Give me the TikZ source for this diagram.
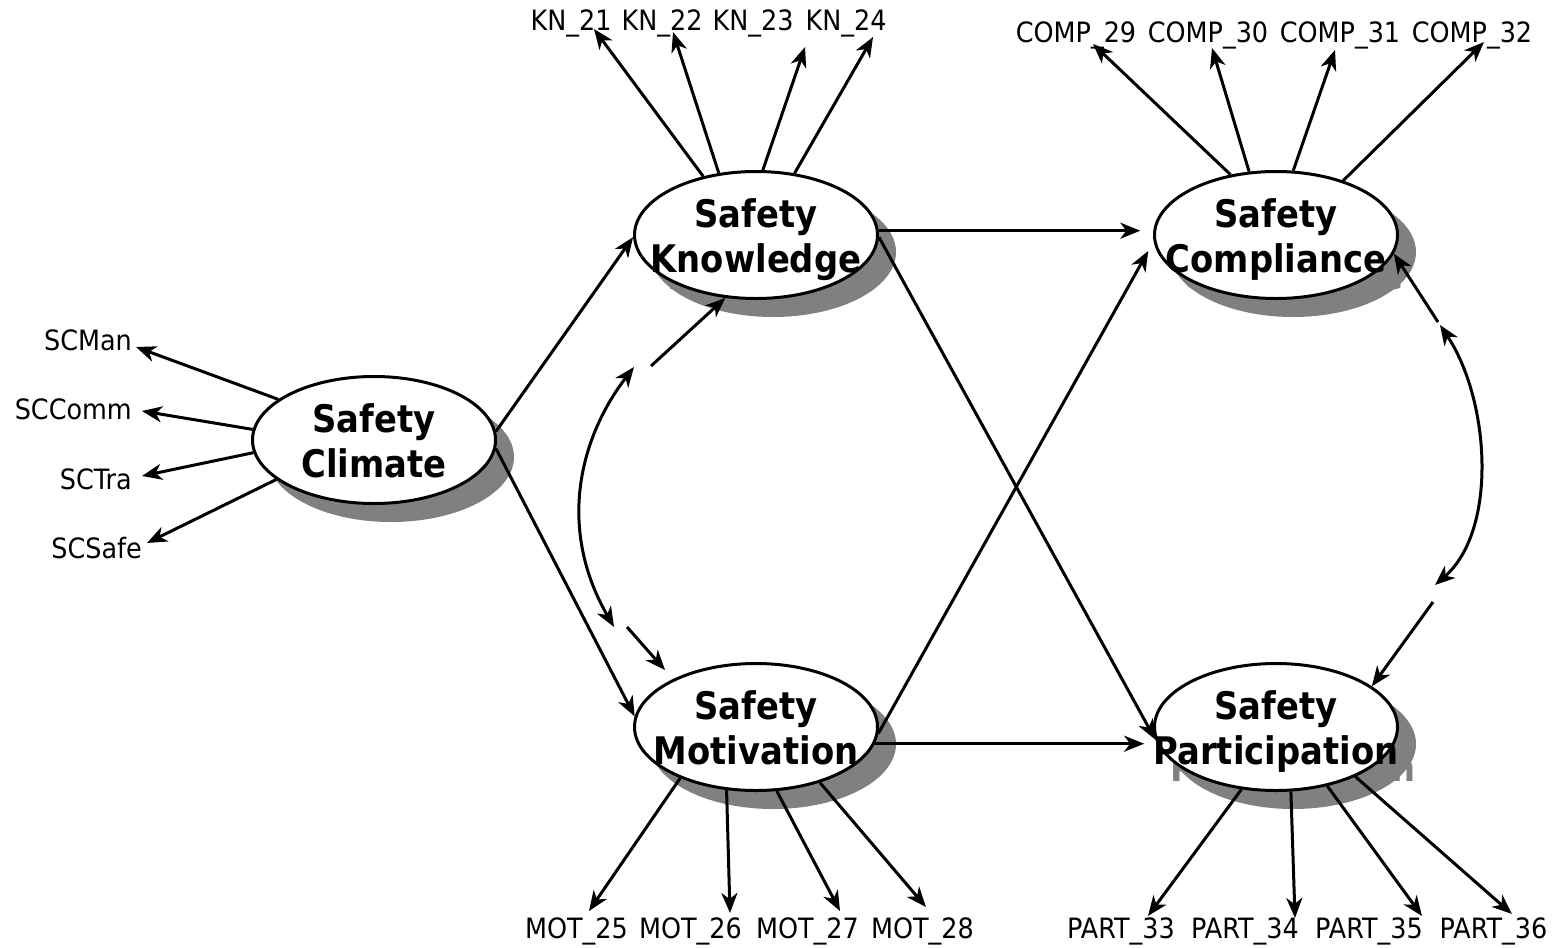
\documentclass[tikz,border=0pt]{standalone}
\usepackage{fontspec}
\setmainfont{DejaVu Sans}
\newfontfamily\lblfont[FakeStretch=0.91]{DejaVu Sans}
\newfontfamily\ttlfont[FakeStretch=0.89]{DejaVu Sans Bold}
\usetikzlibrary{arrows.meta,shapes.geometric}
\definecolor{shadowgray}{RGB}{128,128,128}
\newcommand{\latvar}[5]{%
  \node[shad] (#1s) at (#2+17,#3+17) {};
  \node[ttl,text=shadowgray] at (#2+17,#3+17-7.5) {#4};
  \node[ttl,text=shadowgray] at (#2+17,#3+17+37.5) {#5};
  \node[ell] (#1) at (#2,#3) {};
  \node[ttl] (#1a) at (#2,#3-7.5) {#4};
  \node[ttl] (#1b) at (#2,#3+37.5) {#5};
}
\begin{document}
\begin{tikzpicture}[x=1pt,y=-1pt,
  tip/.tip={Stealth[length=20pt,width=16pt,inset=6pt]},
  arr/.style={line width=3pt,-tip},
  darr/.style={line width=3pt,tip-tip},
  ell/.style={ellipse,draw,line width=3pt,fill=white,minimum width=243pt,minimum height=127pt,inner sep=0pt},
  shad/.style={ellipse,fill=shadowgray,minimum width=246pt,minimum height=130pt,inner sep=0pt},
  ttl/.style={font=\fontsize{38}{44}\selectfont\ttlfont,anchor=base,inner sep=0pt},
  lbl/.style={font=\fontsize{28}{32}\selectfont\lblfont,inner sep=0pt}]
\path[use as bounding box,fill=white] (0,0) rectangle (1564,948);

% latent variables
\latvar{sc}{374}{440}{Safety}{Climate}
\latvar{sk}{756}{235}{Safety}{Knowledge}
\latvar{sco}{1276}{235}{Safety}{Compliance}
\latvar{sm}{756}{727}{Safety}{Motivation}
\latvar{spa}{1276}{727}{Safety}{Participation}

% indicator labels
\node[lbl,anchor=base east] (scman) at (132,350) {SCMan};
\node[lbl,anchor=base east] (sccomm) at (132,419) {SCComm};
\node[lbl,anchor=base east] (sctra) at (132,489) {SCTra};
\node[lbl,anchor=base east] (scsafe) at (142,558) {SCSafe};

\node[lbl,anchor=base] (kn21) at (571,30) {KN\_21};
\node[lbl,anchor=base] (kn22) at (662,30) {KN\_22};
\node[lbl,anchor=base] (kn23) at (753,30) {KN\_23};
\node[lbl,anchor=base] (kn24) at (846,30) {KN\_24};

\node[lbl,anchor=base] (comp29) at (1076,42) {COMP\_29};
\node[lbl,anchor=base] (comp30) at (1208,42) {COMP\_30};
\node[lbl,anchor=base] (comp31) at (1340,42) {COMP\_31};
\node[lbl,anchor=base] (comp32) at (1472,42) {COMP\_32};

\node[lbl,anchor=base] (mot25) at (576.5,938) {MOT\_25};
\node[lbl,anchor=base] (mot26) at (690.5,938) {MOT\_26};
\node[lbl,anchor=base] (mot27) at (807.5,938) {MOT\_27};
\node[lbl,anchor=base] (mot28) at (922.5,938) {MOT\_28};

\node[lbl,anchor=base] (part33) at (1121,938) {PART\_33};
\node[lbl,anchor=base] (part34) at (1245,938) {PART\_34};
\node[lbl,anchor=base] (part35) at (1369,938) {PART\_35};
\node[lbl,anchor=base] (part36) at (1493.5,938) {PART\_36};

% indicator arrows
\draw[arr] (sc.157) -- ([shift={(4,-3)}]scman.base east);
\draw[arr] (sc.175) -- ([shift={(10,-8)}]sccomm.base east);
\draw[arr] (sc.186) -- ([shift={(10,-13)}]sctra.base east);
\draw[arr] (sc.202) -- ([shift={(5,-15)}]scsafe.base east);

\draw[arr] (sk.132.6) -- ([shift={(23,-1)}]kn21.base);
\draw[arr] (sk.121.6) -- ([shift={(11,2)}]kn22.base);
\draw[arr] (sk.84.7) -- ([shift={(52,17)}]kn23.base);
\draw[arr] (sk.58.2) -- ([shift={(27,7)}]kn24.base);

\draw[arr] (sco.127.3) -- ([shift={(17,2)}]comp29.base);
\draw[arr] (sco.113.3) -- ([shift={(4,6)}]comp30.base);
\draw[arr] (sco.75.3) -- ([shift={(-5,8)}]comp31.base);
\draw[arr] (sco.39.4) -- ([shift={(12,0)}]comp32.base);

\draw[arr] (sm.214.2) -- ([shift={(12.5,-27)}]mot25.base);
\draw[arr] (sm.245.2) -- ([shift={(39.5,-25)}]mot26.base);
\draw[arr] (sm.288.7) -- ([shift={(32.5,-27)}]mot27.base);
\draw[arr] (sm.319.5) -- ([shift={(3.5,-31)}]mot28.base);

\draw[arr] (spa.241) -- ([shift={(27,-22)}]part33.base);
\draw[arr] (spa.283) -- ([shift={(50,-20)}]part34.base);
\draw[arr] (spa.311.3) -- ([shift={(53,-22)}]part35.base);
\draw[arr] (spa.328.7) -- ([shift={(18.5,-24)}]part36.base);

% structural paths
\draw[arr] (sc.4) -- (sk.181);
\draw[arr] (sc.-4) -- (sm.175);
\draw[arr,shorten >=13pt] (sk.2) -- (sco.178);
\draw[arr] (sk.-1) -- (spa.186);
\draw[arr,shorten >=11pt] (sm.-3) -- (sco.183);
\draw[arr,shorten >=13pt] (sm.-8) -- (spa.188);

% disturbance covariances
\coordinate (kmA) at (651,366);
\coordinate (kmB) at (627,627);
\coordinate (kmC) at (634,367);
\coordinate (kmD) at (614,627);
\draw[arr] (kmA) -- (sk.244);
\draw[arr,shorten >=12pt] (kmB) -- (sm.150);
\draw[darr] (kmC) .. controls (578,440) and (558,530) .. (kmD);

\coordinate (cpA) at (1438,322);
\coordinate (cpB) at (1433,602);
\coordinate (cpC) at (1440,325);
\coordinate (cpD) at (1435,585);
\draw[arr] (cpA) -- (sco.351);
\draw[arr] (cpB) -- (spa.23);
\draw[darr] (cpC) .. controls (1490,400) and (1498,530) .. (cpD);
\end{tikzpicture}
\end{document}
